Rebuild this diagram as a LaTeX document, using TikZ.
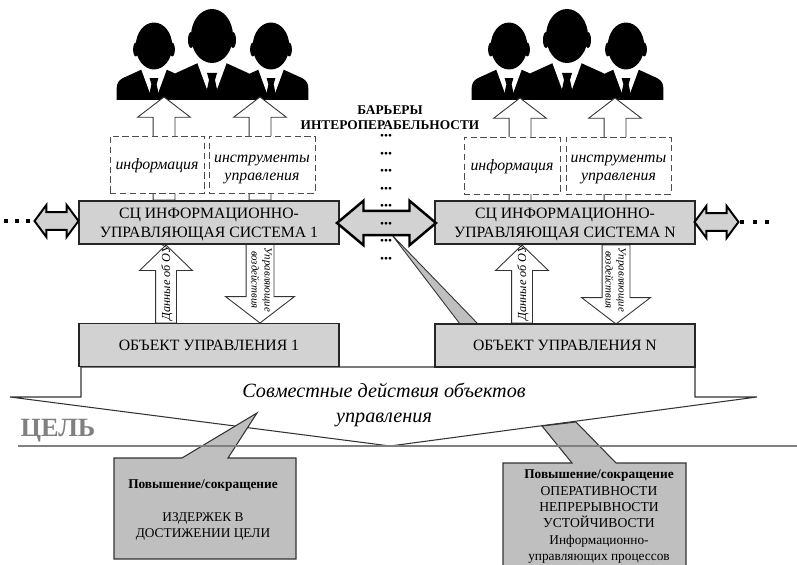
\documentclass[tikz,border=0pt]{standalone}
\usepackage{fontspec}
\setmainfont{Liberation Serif}
\usetikzlibrary{arrows.meta,positioning,shapes.arrows}

\begin{document}
\begin{tikzpicture}[
  x=0.02cm, y=-0.02cm,
  sysbox/.style={draw=black!85, line width=0.9pt, fill=gray!35, minimum width=5.2cm, minimum height=0.86cm, align=center, inner sep=0, font=\fontsize{8.95}{11.2}\selectfont},
  systext/.style={inner sep=0, align=center, font=\fontsize{8.95}{11.2}\selectfont},
  dashbox/.style={draw=black!70, dash pattern=on 3.6pt off 2pt, fill=white, line width=0.5pt, minimum height=1.14cm, align=center, inner sep=0, font=\fontsize{9}{10.2}\selectfont\itshape},
  dashtext/.style={inner sep=0, align=center, font=\fontsize{9}{10.2}\selectfont\itshape},
  blockarrow/.style={single arrow, draw=black!80, fill=white, line width=0.5pt, inner xsep=0, outer sep=0, anchor=tip},
  infoarrow/.style={blockarrow, rotate=90, inner ysep=0.21cm, minimum height=2.06cm, minimum width=1.04cm, single arrow head extend=0.31cm, single arrow tip angle=105},
  dataarrow/.style={blockarrow, rotate=90, inner ysep=0.2cm, minimum height=1.56cm, minimum width=1.04cm, single arrow head extend=0.32cm, single arrow tip angle=92},
  ctrlarrow/.style={blockarrow, rotate=-90, inner ysep=0.27cm, minimum height=1.58cm, minimum width=1.36cm, single arrow head extend=0.41cm, single arrow tip angle=105},
  linkarrow/.style={double arrow, draw=black, fill=gray!35, line width=1.1pt, inner xsep=0, inner ysep=0.16cm, outer sep=0, minimum height=0.88cm, minimum width=0.6cm, double arrow head extend=0.14cm, double arrow tip angle=107},
  callout/.style={draw=black!80, fill=gray!50, line width=0.6pt},
  vlabel/.style={inner sep=0, align=center, font=\fontsize{6.2}{7.4}\selectfont\itshape},
  person/.pic={
    \fill (-43,70) -- (-43,50) .. controls (-43,43) and (-41,40) .. (-36,37) -- (-14,27) -- (14,27) -- (36,37) .. controls (41,40) and (43,43) .. (43,50) -- (43,70) -- cycle;
    \fill[white] (-15,26) -- (-4,56) -- (4,56) -- (15,26) -- cycle;
    \fill (-5,37) -- (5,37) -- (3,44) -- (6,58) -- (0,66) -- (-6,58) -- (-3,44) -- cycle;
    \fill (0,0) ellipse [x radius=21, y radius=27];
    \fill (-21,4) ellipse [x radius=3, y radius=8];
    \fill (21,4) ellipse [x radius=3, y radius=8];
  }
]
\useasboundingbox (0,0) rectangle (797,564);

% people
\foreach \dx in {0,355} {
  \begin{scope}
    \clip (100+\dx,0) rectangle (320+\dx,99.5);
    \pic[scale=0.87] at (154+\dx,46) {person};
    \pic[scale=0.87] at (271+\dx,46) {person};
    \pic at (212+\dx,36) {person};
  \end{scope}
}

% arrows to the people
\node[infoarrow] (info1) at (164,97) {};
\node[infoarrow] (tool1) at (260,97) {};
\node[infoarrow] (infoN) at (520,98) {};
\node[infoarrow] (toolN) at (615,98) {};

\node[dashbox, minimum width=1.88cm] (infobox1) at (157,164.5) {};
\node[dashbox, minimum width=2.12cm] (toolbox1) at (262,164.5) {};
\node[dashbox, minimum width=1.92cm] (infoboxN) at (512,165.5) {};
\node[dashbox, minimum width=2.10cm] (toolboxN) at (618.5,165.5) {};
\node[dashtext] (infotxt1) at (157,165.5) {информация};
\node[dashtext] (tooltxt1) at (262,169.5) {инструменты\\управления};
\node[dashtext] (infotxtN) at (512,166.5) {информация};
\node[dashtext] (tooltxtN) at (618.5,169.5) {инструменты\\управления};

% systems and their objects
\node[dataarrow] (data1) at (166,245) {};
\node[ctrlarrow] (ctrl1) at (260,323) {};
\node[dataarrow] (dataN) at (522,245) {};
\node[ctrlarrow] (ctrlN) at (616,324) {};
\node[vlabel, font=\fontsize{7}{8}\selectfont\itshape, rotate=90] (datatxt1) at (167,283) {Данные об ОУ};
\node[vlabel, rotate=-90] (ctrltxt1) at (261.5,280) {Управляющие\\воздействия};
\node[vlabel, font=\fontsize{7}{8}\selectfont\itshape, rotate=90] (datatxtN) at (523,283) {Данные об ОУ};
\node[vlabel, rotate=-90] (ctrltxtN) at (615.5,280) {Управляющие\\воздействия};

% joint action arrow, goal line, callouts
\draw[draw=black!80, fill=white, line width=0.6pt] (81,367) -- (81,397) -- (10,397) -- (390,446) -- (757,397) -- (695,397) -- (695,367) -- cycle;
\draw[callout] (114,559) -- (114,458) -- (182,458) -- (257,413) -- (228,458) -- (296,458) -- (296,559) -- cycle;
\draw[callout] (503,570) -- (503,463) -- (572,463) -- (542,426) -- (576,422) -- (616,463) -- (686,463) -- (686,570) -- cycle;
\draw[gray, line width=1.7pt] (18,446) -- (797,446);
\node[inner sep=0, text=gray, font=\fontsize{15}{18}\selectfont\bfseries] (goal) at (58,431) {ЦЕЛЬ};
\node[inner sep=0, align=center, font=\fontsize{11.5}{14.2}\selectfont\itshape] (joint) at (384,405) {Совместные действия объектов\\управления};

\node[sysbox] (sys1) at (209,222.5) {};
\node[sysbox] (sysN) at (565,222.5) {};
\node[systext] (systxt1) at (209,224.5) {СЦ ИНФОРМАЦИОННО-\\УПРАВЛЯЮЩАЯ СИСТЕМА 1};
\node[systext] (systxtN) at (565,224.5) {СЦ ИНФОРМАЦИОННО-\\УПРАВЛЯЮЩАЯ СИСТЕМА N};
\draw[draw=black!80, fill=gray!50, line width=0.5pt] (392,235) -- (460,324) -- (478,324) -- cycle;
\node[sysbox] (obj1) at (209,345) {ОБЪЕКТ УПРАВЛЕНИЯ 1};
\node[sysbox] (objN) at (565,345.5) {ОБЪЕКТ УПРАВЛЕНИЯ N};

% links between the systems
\node[linkarrow] (linkL) at (56.5,221) {};
\node[linkarrow] (linkR) at (716.5,222) {};
\node[linkarrow, line width=1.4pt, inner ysep=0.22cm, minimum height=1.98cm, minimum width=0.84cm, double arrow head extend=0.2cm, double arrow tip angle=80] (linkM) at (386.5,223) {};
\foreach \x in {6,17,28}
  \fill (\x-2,219) rectangle (\x+2,223);
\foreach \x in {742,755,767}
  \fill (\x-2,220) rectangle (\x+2,224);

% barriers
\node[inner sep=0, align=center, font=\fontsize{7.6}{8.6}\selectfont\bfseries] (barrier) at (390,117.5) {БАРЬЕРЫ\\ИНТЕРОПЕРАБЕЛЬНОСТИ};
\foreach \y in {137,154.5,172,189.5,207,224.5,242,259.5}
  \node[inner sep=0, font=\fontsize{6.5}{7}\selectfont] at (386,\y) {•••};

% callout texts
\node[inner sep=0, font=\fontsize{7.6}{9}\selectfont\bfseries] (gain1) at (203,485.5) {Повышение/сокращение};
\node[inner sep=0, align=center, font=\fontsize{7.6}{9.1}\selectfont] (cost) at (203,526) {ИЗДЕРЖЕК В\\ДОСТИЖЕНИИ ЦЕЛИ};
\node[inner sep=0, font=\fontsize{7.6}{9}\selectfont\bfseries] (gainN) at (599,476) {Повышение/сокращение};
\node[inner sep=0, align=center, font=\fontsize{7.75}{9.1}\selectfont] (props) at (599,507.5) {ОПЕРАТИВНОСТИ\\НЕПРЕРЫВНОСТИ\\УСТОЙЧИВОСТИ};
\node[inner sep=0, align=center, font=\fontsize{7.6}{9.4}\selectfont] (procs) at (599,549.5) {Информационно-\\управляющих процессов};
\end{tikzpicture}
\end{document}
